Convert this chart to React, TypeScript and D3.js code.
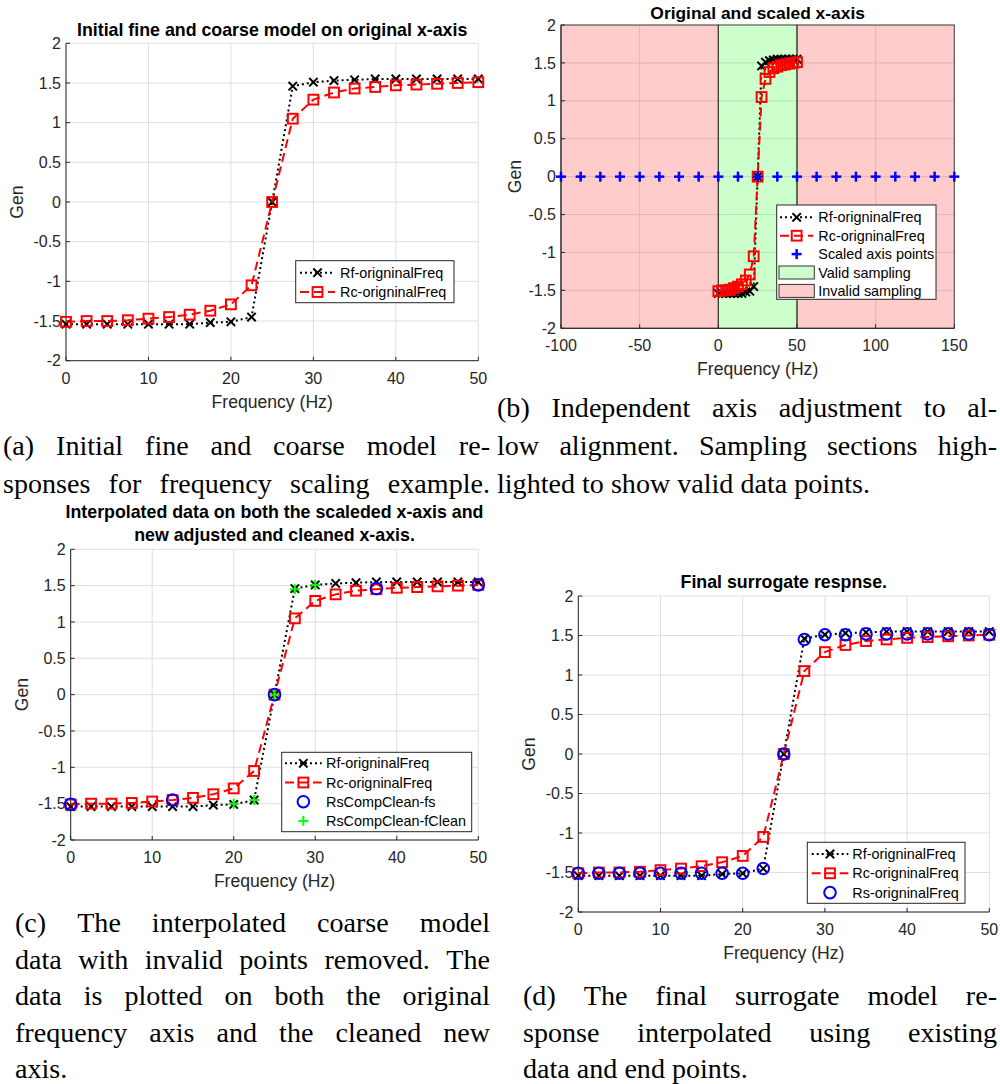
import React from 'react';
import * as d3 from 'd3';

// ---- data -------------------------------------------------------------
const freq = [0, 2.5, 5, 7.5, 10, 12.5, 15, 17.5, 20, 22.5, 25, 27.5, 30, 32.5, 35, 37.5, 40, 42.5, 45, 47.5, 50];
const rfOriginal = [-1.54, -1.54, -1.54, -1.54, -1.54, -1.54, -1.54, -1.52, -1.51, -1.45, 0, 1.46, 1.51, 1.53, 1.54, 1.55, 1.55, 1.55, 1.55, 1.55, 1.55];
const rcOriginal = [-1.51, -1.5, -1.5, -1.49, -1.47, -1.45, -1.42, -1.37, -1.29, -1.05, 0, 1.05, 1.29, 1.38, 1.43, 1.45, 1.47, 1.48, 1.49, 1.5, 1.51];
const scaledAxisFreq = [-100, -87.5, -75, -62.5, -50, -37.5, -25, -12.5, 0, 12.5, 25, 37.5, 50, 62.5, 75, 87.5, 100, 112.5, 125, 137.5, 150];
const scaledAxisGen = [0, 0, 0, 0, 0, 0, 0, 0, 0, 0, 0, 0, 0, 0, 0, 0, 0, 0, 0, 0, 0];
const validRange = [0, 50];
const invalidRanges = [[-100, 0], [50, 150]];
const cleanFsFreq = [0, 12.5, 25, 37.5, 50];
const cleanFsGen = [-1.51, -1.45, 0, 1.46, 1.51];
const cleanFFreq = [20, 22.5, 25, 27.5, 30];
const cleanFGen = [-1.5, -1.45, 0, 1.45, 1.51];
const rsOriginal = [-1.51, -1.51, -1.51, -1.51, -1.51, -1.51, -1.51, -1.51, -1.51, -1.45, 0, 1.45, 1.51, 1.51, 1.52, 1.52, 1.52, 1.52, 1.52, 1.52, 1.51];

const yTicks = [-2, -1.5, -1, -0.5, 0, 0.5, 1, 1.5, 2];
const xTicksOrig = [0, 10, 20, 30, 40, 50];
const xTicksScaled = [-100, -50, 0, 50, 100, 150];

const captionA = ['(a) Initial fine and coarse model re-', 'sponses for frequency scaling example.'];
const captionB = ['(b) Independent axis adjustment to al-', 'low alignment. Sampling sections high-', 'lighted to show valid data points.'];
const captionC = ['(c) The interpolated coarse model', 'data with invalid points removed. The', 'data is plotted on both the original', 'frequency axis and the cleaned new', 'axis.'];
const captionD = ['(d) The final surrogate model re-', 'sponse interpolated using existing', 'data and end points.'];

// ---- styling ----------------------------------------------------------
const SANS = "'Liberation Sans', Arial, Helvetica, sans-serif";
const SERIF = "'Liberation Serif', 'Times New Roman', serif";
const AXIS = '#262626';
const GRID = '#dfdfdf';
const CAPTION_SIZE = 26.5;
const CAPTION_STRETCH = 1.06;

type Marker = 'x' | 'square' | 'circle' | 'plus';
interface Series {
  xs: number[];
  ys: number[];
  color: string;
  line: 'dotted' | 'dashed' | 'none';
  marker: Marker;
  label: string;
  markerWidth?: number;
}

const fineStyle = { color: '#000000', line: 'dotted' as const, marker: 'x' as Marker, label: 'Rf-origninalFreq' };
const coarseStyle = { color: '#ff0000', line: 'dashed' as const, marker: 'square' as Marker, label: 'Rc-origninalFreq' };

function MarkerShape({ m, x, y, color, sw }: { m: Marker; x: number; y: number; color: string; sw?: number }) {
  const w = sw ?? 2;
  if (m === 'x') {
    const s = 4.2;
    return (
      <g stroke={color} strokeWidth={w}>
        <line x1={x - s} y1={y - s} x2={x + s} y2={y + s} />
        <line x1={x - s} y1={y + s} x2={x + s} y2={y - s} />
      </g>
    );
  }
  if (m === 'square') {
    const s = 4.9;
    return <rect x={x - s} y={y - s} width={2 * s} height={2 * s} fill="none" stroke={color} strokeWidth={w} />;
  }
  if (m === 'circle') {
    return <circle cx={x} cy={y} r={5.8} fill="none" stroke={color} strokeWidth={w} />;
  }
  const s = 5;
  return (
    <g stroke={color} strokeWidth={w}>
      <line x1={x - s} y1={y} x2={x + s} y2={y} />
      <line x1={x} y1={y - s} x2={x} y2={y + s} />
    </g>
  );
}

function dashFor(line: Series['line']) {
  if (line === 'dotted') return '2 3';
  if (line === 'dashed') return '9 5';
  return undefined;
}

interface LegendRow {
  series?: Series;
  patch?: string;
  label: string;
}

interface LegendSpec {
  x: number;
  y: number;
  w: number;
  h: number;
  firstRow: number;
  rowStep: number;
  sampleStart: number;
  sampleEnd: number;
  textX: number;
  rows: LegendRow[];
}

interface PanelSpec {
  left: number;
  right: number;
  top: number;
  bottom: number;
  xDomain: [number, number];
  xTicks: number[];
  title: string[];
  titleY: number[];
  titleSize: number;
  genOffset: number;
  series: Series[];
  patches?: { x0: number; x1: number; fill: string }[];
  legend: LegendSpec;
}

function Legend({ spec }: { spec: LegendSpec }) {
  return (
    <g>
      <rect x={spec.x} y={spec.y} width={spec.w} height={spec.h} fill="#ffffff" stroke={AXIS} strokeWidth={1} />
      {spec.rows.map((r, i) => {
        const cy = spec.y + spec.firstRow + i * spec.rowStep;
        const x0 = spec.x + spec.sampleStart;
        const x1 = spec.x + spec.sampleEnd;
        const mid = (x0 + x1) / 2;
        return (
          <g key={i}>
            {r.series && r.series.line !== 'none' && (
              <line x1={x0} y1={cy} x2={x1} y2={cy} stroke={r.series.color} strokeWidth={2} strokeDasharray={dashFor(r.series.line)} />
            )}
            {r.series && <MarkerShape m={r.series.marker} x={mid} y={cy} color={r.series.color} sw={r.series.markerWidth} />}
            {r.patch && (
              <rect x={x0 - 1} y={cy - 6.5} width={x1 - x0 + 2} height={13} fill={r.patch} fillOpacity={0.2} stroke="#333" strokeWidth={1} />
            )}
            <text x={spec.x + spec.textX} y={cy} dy="0.35em" fontFamily={SANS} fontSize={14.4} fill="#000">
              {r.label}
            </text>
          </g>
        );
      })}
    </g>
  );
}

function Panel({ p }: { p: PanelSpec }) {
  const x = d3.scaleLinear().domain(p.xDomain).range([p.left, p.right]);
  const y = d3.scaleLinear().domain([-2, 2]).range([p.bottom, p.top]);
  const cx = (p.left + p.right) / 2;
  const cy = (p.top + p.bottom) / 2;
  return (
    <g>
      {/* grid */}
      {p.xTicks.map((t) => (
        <line key={'gx' + t} x1={x(t)} x2={x(t)} y1={p.top} y2={p.bottom} stroke={GRID} strokeWidth={1} />
      ))}
      {yTicks.map((t) => (
        <line key={'gy' + t} x1={p.left} x2={p.right} y1={y(t)} y2={y(t)} stroke={GRID} strokeWidth={1} />
      ))}
      {/* shaded sampling regions */}
      {p.patches &&
        p.patches.map((pt, i) => (
          <rect
            key={'pt' + i}
            x={x(pt.x0)}
            y={p.top}
            width={x(pt.x1) - x(pt.x0)}
            height={p.bottom - p.top}
            fill={pt.fill}
            fillOpacity={0.2}
            stroke="#333"
            strokeOpacity={0.9}
            strokeWidth={1}
          />
        ))}
      {/* axes */}
      <line x1={p.left} x2={p.right} y1={p.bottom} y2={p.bottom} stroke={AXIS} strokeWidth={1} />
      <line x1={p.left} x2={p.left} y1={p.top} y2={p.bottom} stroke={AXIS} strokeWidth={1} />
      {p.xTicks.map((t) => (
        <g key={'tx' + t}>
          <line x1={x(t)} x2={x(t)} y1={p.bottom} y2={p.bottom - 4} stroke={AXIS} />
          <text x={x(t)} y={p.bottom + 17.5} dy="0.35em" textAnchor="middle" fontFamily={SANS} fontSize={16} fill={AXIS}>
            {String(t)}
          </text>
        </g>
      ))}
      {yTicks.map((t) => (
        <g key={'ty' + t}>
          <line x1={p.left} x2={p.left + 4} y1={y(t)} y2={y(t)} stroke={AXIS} />
          <text x={p.left - 5} y={y(t)} dy="0.35em" textAnchor="end" fontFamily={SANS} fontSize={16} fill={AXIS}>
            {String(t)}
          </text>
        </g>
      ))}
      <text x={cx} y={p.bottom + 41} dy="0.35em" textAnchor="middle" fontFamily={SANS} fontSize={17.6} fill={AXIS}>
        Frequency (Hz)
      </text>
      <text
        transform={`translate(${p.left - p.genOffset},${cy}) rotate(-90)`}
        dy="0.35em"
        textAnchor="middle"
        fontFamily={SANS}
        fontSize={17.6}
        fill={AXIS}
      >
        Gen
      </text>
      {p.title.map((t, i) => (
        <text key={'ti' + i} x={cx} y={p.titleY[i]} dy="0.35em" textAnchor="middle" fontFamily={SANS} fontWeight="bold" fontSize={p.titleSize} fill="#000">
          {t}
        </text>
      ))}
      {/* series */}
      {p.series.map((s, si) => {
        const pts: [number, number][] = s.xs.map((xv, i) => [x(xv), y(s.ys[i])]);
        const path = d3.line()(pts) || '';
        return (
          <g key={'s' + si}>
            {s.line !== 'none' && (
              <path d={path} fill="none" stroke={s.color} strokeWidth={2} strokeDasharray={dashFor(s.line)} />
            )}
            {pts.map((pt, i) => (
              <MarkerShape key={i} m={s.marker} x={pt[0]} y={pt[1]} color={s.color} sw={s.markerWidth} />
            ))}
          </g>
        );
      })}
      <Legend spec={p.legend} />
    </g>
  );
}

// ---- captions ---------------------------------------------------------
let measureCtx: CanvasRenderingContext2D | null = null;
function textWidth(s: string, font: string) {
  if (!measureCtx) measureCtx = document.createElement('canvas').getContext('2d');
  if (!measureCtx) return s.length * 10;
  measureCtx.font = font;
  return measureCtx.measureText(s).width;
}

function Caption({ lines, x, width, y0, step, justifyLast }: { lines: string[]; x: number; width: number; y0: number; step: number; justifyLast: boolean }) {
  const font = `${CAPTION_SIZE}px ${SERIF}`;
  return (
    <g fontFamily={SERIF} fontSize={CAPTION_SIZE} fill="#000">
      {lines.map((ln, li) => {
        const yy = y0 + li * step;
        const isLast = li === lines.length - 1;
        if (isLast && !justifyLast) {
          const w = textWidth(ln, font) * CAPTION_STRETCH;
          return (
            <text key={li} x={x} y={yy} textLength={w} lengthAdjust="spacingAndGlyphs">
              {ln}
            </text>
          );
        }
        const words = ln.split(' ');
        const ws = words.map((w) => textWidth(w, font) * CAPTION_STRETCH);
        const total = ws.reduce((a, b) => a + b, 0);
        const gap = words.length > 1 ? (width - total) / (words.length - 1) : 0;
        let cur = x;
        return (
          <g key={li}>
            {words.map((w, i) => {
              const px = cur;
              cur += ws[i] + gap;
              return (
                <text key={i} x={px} y={yy} textLength={ws[i]} lengthAdjust="spacingAndGlyphs">
                  {w}
                </text>
              );
            })}
          </g>
        );
      })}
    </g>
  );
}

// ---- panels -----------------------------------------------------------
const rfSeries: Series = { xs: freq, ys: rfOriginal, ...fineStyle };
const rcSeries: Series = { xs: freq, ys: rcOriginal, ...coarseStyle };
const scaledSeries: Series = { xs: scaledAxisFreq, ys: scaledAxisGen, color: '#0000ff', line: 'none', marker: 'plus', label: 'Scaled axis points', markerWidth: 2.5 };
const cleanFsSeries: Series = { xs: cleanFsFreq, ys: cleanFsGen, color: '#0000ff', line: 'none', marker: 'circle', label: 'RsCompClean-fs' };
const cleanFSeries: Series = { xs: cleanFFreq, ys: cleanFGen, color: '#00ff00', line: 'none', marker: 'plus', label: 'RsCompClean-fClean' };
const rsSeries: Series = { xs: freq, ys: rsOriginal, color: '#0000ff', line: 'none', marker: 'circle', label: 'Rs-origninalFreq' };

const panelA: PanelSpec = {
  left: 66, right: 478.3, top: 43.3, bottom: 360.7,
  xDomain: [0, 50], xTicks: xTicksOrig,
  title: ['Initial fine and coarse model on original x-axis'], titleY: [30], titleSize: 17.8,
  genOffset: 49,
  series: [rfSeries, rcSeries],
  legend: {
    x: 295.7, y: 260.7, w: 158.3, h: 42, firstRow: 12, rowStep: 19.3, sampleStart: 4.3, sampleEnd: 39.3, textX: 44.3,
    rows: [{ series: rfSeries, label: rfSeries.label }, { series: rcSeries, label: rcSeries.label }],
  },
};

const panelB: PanelSpec = {
  left: 561, right: 954.3, top: 25, bottom: 328.3,
  xDomain: [-100, 150], xTicks: xTicksScaled,
  title: ['Original and scaled x-axis'], titleY: [13.3], titleSize: 17.4,
  genOffset: 46,
  patches: [
    ...invalidRanges.map((r) => ({ x0: r[0], x1: r[1], fill: '#ff0000' })),
    { x0: validRange[0], x1: validRange[1], fill: '#00ff00' },
  ],
  series: [rfSeries, rcSeries, scaledSeries],
  legend: {
    x: 776.7, y: 205, w: 159.3, h: 94.3, firstRow: 12.3, rowStep: 18.4, sampleStart: 3.3, sampleEnd: 36.6, textX: 41.6,
    rows: [
      { series: rfSeries, label: rfSeries.label },
      { series: rcSeries, label: rcSeries.label },
      { series: scaledSeries, label: scaledSeries.label },
      { patch: '#00ff00', label: 'Valid sampling' },
      { patch: '#ff0000', label: 'Invalid sampling' },
    ],
  },
};

const panelC: PanelSpec = {
  left: 70.7, right: 478.3, top: 549.3, bottom: 840,
  xDomain: [0, 50], xTicks: xTicksOrig,
  title: ['Interpolated data on both the scaleded x-axis and', 'new adjusted and cleaned x-axis.'], titleY: [511.7, 535], titleSize: 17.8,
  genOffset: 49,
  series: [rfSeries, rcSeries, cleanFsSeries, cleanFSeries],
  legend: {
    x: 281.7, y: 752.3, w: 190, h: 79.4, firstRow: 11, rowStep: 19.2, sampleStart: 3.3, sampleEnd: 40, textX: 44.3,
    rows: [
      { series: rfSeries, label: rfSeries.label },
      { series: rcSeries, label: rcSeries.label },
      { series: cleanFsSeries, label: cleanFsSeries.label },
      { series: cleanFSeries, label: cleanFSeries.label },
    ],
  },
};

const panelD: PanelSpec = {
  left: 578.3, right: 989.3, top: 596, bottom: 912,
  xDomain: [0, 50], xTicks: xTicksOrig,
  title: ['Final surrogate respnse.'], titleY: [582], titleSize: 17.8,
  genOffset: 49,
  series: [rfSeries, rcSeries, rsSeries],
  legend: {
    x: 807.3, y: 842.3, w: 157.7, h: 61, firstRow: 11.7, rowStep: 19.3, sampleStart: 4.4, sampleEnd: 41, textX: 45,
    rows: [
      { series: rfSeries, label: rfSeries.label },
      { series: rcSeries, label: rcSeries.label },
      { series: rsSeries, label: rsSeries.label },
    ],
  },
};

export default function App() {
  return (
    <svg width={1000} height={1084} viewBox="0 0 1000 1084" style={{ position: 'absolute', left: 0, top: 0, background: '#fff' }}>
      <rect x={0} y={0} width={1000} height={1084} fill="#ffffff" />
      <Panel p={panelA} />
      <Panel p={panelB} />
      <Panel p={panelC} />
      <Panel p={panelD} />
      <Caption lines={captionA} x={3} width={487} y0={455} step={38} justifyLast={true} />
      <Caption lines={captionB} x={497} width={500} y0={417} step={38} justifyLast={false} />
      <Caption lines={captionC} x={15} width={475} y0={932} step={36.5} justifyLast={false} />
      <Caption lines={captionD} x={523} width={474} y0={1005} step={36.5} justifyLast={false} />
    </svg>
  );
}
